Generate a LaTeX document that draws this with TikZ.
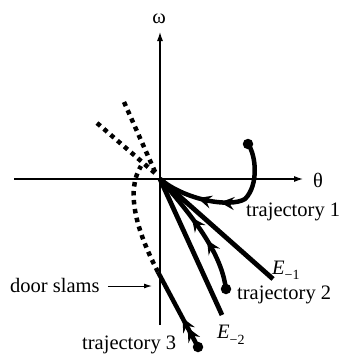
\documentclass[tikz,border=0pt]{standalone}
\usepackage{fontspec}
\setmainfont{Liberation Serif}
\usetikzlibrary{arrows.meta,decorations.markings}
\begin{document}
\begin{tikzpicture}[x=1pt,y=-1pt,
  axis/.style={line width=1.1pt,-{Latex[length=9pt,width=6pt]}},
  thinarrow/.style={line width=1pt,-{Latex[length=8pt,width=5pt]}},
  traj/.style={line width=4.5pt},
  eig/.style={line width=4.8pt},
  dotline/.style={line width=4.5pt,dash pattern=on 4.5pt off 4.5pt},
  startdot/.style={circle,fill,inner sep=0pt,minimum size=10.5pt},
  lbl/.style={font=\fontsize{20.5}{24}\selectfont,inner sep=0pt},
  arrowat/.style={postaction={decorate,decoration={markings,
     mark=at position #1 with {\arrow{Stealth[length=14pt,width=13pt,inset=5pt]}}}}}
]
\useasboundingbox (0,0) rectangle (345,354);
% axes
\coordinate (O) at (160,179);
\coordinate (xs) at (14,179);
\coordinate (xe) at (303,179);
\coordinate (ys) at (160,325);
\coordinate (ye) at (160,32);
\draw[axis] (xs) -- (xe);
\draw[axis] (ys) -- (ye);
\node[lbl] (w) at (159,19) {ω};
\node[lbl] (th) at (318,180) {θ};
% eigen lines
\coordinate (e1) at (273,279);
\coordinate (e2) at (222,315);
\draw[eig] (O) -- (e1);
\draw[eig] (O) -- (e2);
% dotted extensions
\coordinate (a1) at (124,102);
\coordinate (b1) at (97,123);
\coordinate (ae) at (156,174);
\draw[dotline] (a1) -- (ae);
\draw[dotline] (b1) -- (ae);
% start dots
\node[startdot] (d1) at (248,144) {};
\node[startdot] (d2) at (226,289) {};
\node[startdot] (d3) at (198,347) {};
% trajectory 1
\draw[traj,arrowat=84pt,arrowat=107pt] (d1.center) .. controls (256,155) and (259,185) .. (245,199)
   .. controls (230,208) and (185,200) .. (O);
% trajectory 2
\draw[traj,arrowat=53pt,arrowat=80pt] (d2.center) .. controls (222,260) and (205,230) .. (O);
% trajectory 3
\coordinate (slam) at (158,272);
\draw[traj,arrowat=22pt,arrowat=33pt] (d3.center) -- (slam);
\coordinate (c3) at (141,166);
\draw[dotline] (slam) .. controls (135,228) and (126,190) .. (c3);
% labels
\node[lbl,anchor=base west] (t1) at (246,216) {trajectory 1};
\node[lbl,anchor=base west] (t2) at (237,299) {trajectory 2};
\node[lbl,anchor=base west] (t3) at (82,349) {trajectory 3};
\node[lbl,anchor=base west] (E1) at (272,274) {\textit{E}\raisebox{-5pt}{\fontsize{14}{14}\selectfont −1}};
\node[lbl,anchor=base west] (E2) at (217,338) {\textit{E}\raisebox{-6pt}{\fontsize{14}{14}\selectfont −2}};
\node[lbl,anchor=base west] (ds) at (10,292) {door slams};
\coordinate (dsa) at (152,286);
\draw[thinarrow] (ds.east |- dsa) ++(8,0) -- (dsa);
\end{tikzpicture}
\end{document}
